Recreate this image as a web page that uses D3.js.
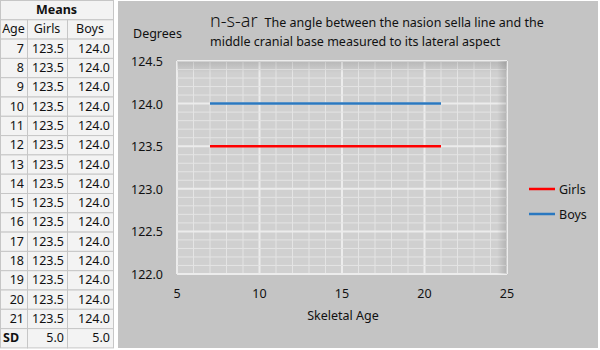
<!DOCTYPE html>
<html>
<head>
<meta charset="utf-8">
<script src="https://cdn.jsdelivr.net/npm/d3@7"></script>
<style>
  body { margin: 0; background: #fff; }
  svg { display: block; font-family: "Noto Sans", "DejaVu Sans", sans-serif; }
</style>
</head>
<body>
<svg id="chart" width="600" height="350"></svg>
<script>
const ages = [7, 8, 9, 10, 11, 12, 13, 14, 15, 16, 17, 18, 19, 20, 21];
const girls = [123.5, 123.5, 123.5, 123.5, 123.5, 123.5, 123.5, 123.5, 123.5, 123.5, 123.5, 123.5, 123.5, 123.5, 123.5];
const boys = [124.0, 124.0, 124.0, 124.0, 124.0, 124.0, 124.0, 124.0, 124.0, 124.0, 124.0, 124.0, 124.0, 124.0, 124.0];
const sd = { girls: 5.0, boys: 5.0 };
const xTicks = [5, 10, 15, 20, 25];
const yTicks = [122.0, 122.5, 123.0, 123.5, 124.0, 124.5];

const svg = d3.select("#chart");

// ---- table on the left ----
const rowH = 19.3;
const cols = [0, 27, 67, 113];
const tbl = svg.append("g");

function cell(x0, x1, row, text, opts = {}) {
  const y = row * rowH;
  tbl.append("rect")
    .attr("x", x0 + 0.5).attr("y", y + 0.5)
    .attr("width", x1 - x0).attr("height", rowH)
    .attr("fill", "#f3f3f3").attr("stroke", "#c6c6c6");
  tbl.append("text")
    .attr("x", opts.anchor === "middle" ? (x0 + x1) / 2 : opts.anchor === "start" ? x0 + 3 : x1 - 3)
    .attr("y", y + rowH / 2 + 4.5)
    .attr("text-anchor", opts.anchor || "end")
    .attr("font-size", 12.5)
    .attr("font-weight", opts.bold ? "bold" : null)
    .attr("fill", "#111")
    .text(text);
}

cell(cols[0], cols[3], 0, "Means", { anchor: "middle", bold: true });
cell(cols[0], cols[1], 1, "Age", { anchor: "middle" });
cell(cols[1], cols[2], 1, "Girls", { anchor: "middle" });
cell(cols[2], cols[3], 1, "Boys", { anchor: "middle" });
ages.forEach((a, i) => {
  cell(cols[0], cols[1], i + 2, a);
  cell(cols[1], cols[2], i + 2, girls[i].toFixed(1));
  cell(cols[2], cols[3], i + 2, boys[i].toFixed(1));
});
const sdRow = ages.length + 2;
cell(cols[0], cols[1], sdRow, "SD", { anchor: "start", bold: true });
cell(cols[1], cols[2], sdRow, sd.girls.toFixed(1));
cell(cols[2], cols[3], sdRow, sd.boys.toFixed(1));

// ---- chart panel ----
svg.append("rect")
  .attr("x", 118).attr("y", 1).attr("width", 480).attr("height", 347)
  .attr("fill", "#c4c4c4");

const plot = { left: 177, right: 507, top: 61, bottom: 274 };

const x = d3.scaleLinear().domain([5, 25]).range([plot.left, plot.right]);
const y = d3.scaleLinear().domain([122, 124.5]).range([plot.bottom, plot.top]);

const defs = svg.append("defs");
const gTop = defs.append("linearGradient").attr("id", "shTop")
  .attr("x1", 0).attr("y1", 0).attr("x2", 0).attr("y2", 1);
gTop.append("stop").attr("offset", 0).attr("stop-color", "#000").attr("stop-opacity", 0.12);
gTop.append("stop").attr("offset", 1).attr("stop-color", "#000").attr("stop-opacity", 0);
const gRight = defs.append("linearGradient").attr("id", "shRight")
  .attr("x1", 0).attr("y1", 0).attr("x2", 1).attr("y2", 0);
gRight.append("stop").attr("offset", 0).attr("stop-color", "#000").attr("stop-opacity", 0);
gRight.append("stop").attr("offset", 1).attr("stop-color", "#000").attr("stop-opacity", 0.14);

svg.append("rect")
  .attr("x", plot.left).attr("y", plot.top)
  .attr("width", plot.right - plot.left).attr("height", plot.bottom - plot.top)
  .attr("fill", "#d0d0d0");

const grid = svg.append("g");
// minor verticals every 1, major every 5
d3.range(5, 26, 1).forEach(v => {
  grid.append("line")
    .attr("x1", x(v)).attr("x2", x(v))
    .attr("y1", plot.top).attr("y2", plot.bottom)
    .attr("stroke", v % 5 === 0 ? "#ececec" : "#e4e4e4")
    .attr("stroke-width", v % 5 === 0 ? 2 : 1);
});
// minor horizontals every 0.1, major every 0.5
d3.range(0, 26).forEach(k => {
  const v = 122 + k * 0.1;
  const major = k % 5 === 0;
  grid.append("line")
    .attr("x1", plot.left).attr("x2", plot.right)
    .attr("y1", y(v)).attr("y2", y(v))
    .attr("stroke", major ? "#ececec" : "#e4e4e4")
    .attr("stroke-width", major ? 2 : 1);
});

// shading at the top and right edge of the plot
svg.append("rect")
  .attr("x", plot.left).attr("y", plot.top)
  .attr("width", plot.right - plot.left).attr("height", 12)
  .attr("fill", "url(#shTop)");
svg.append("rect")
  .attr("x", plot.right - 10).attr("y", plot.top)
  .attr("width", 10).attr("height", plot.bottom - plot.top)
  .attr("fill", "url(#shRight)");

// axes labels
svg.append("g").selectAll("text")
  .data(yTicks).enter().append("text")
  .attr("x", 163).attr("y", d => y(d) + 5)
  .attr("text-anchor", "end").attr("font-size", 12.5).attr("fill", "#111")
  .text(d => d.toFixed(1));

svg.append("g").selectAll("text")
  .data(xTicks).enter().append("text")
  .attr("x", d => x(d)).attr("y", 298)
  .attr("text-anchor", "middle").attr("font-size", 12.5).attr("fill", "#111")
  .text(d => d);

svg.append("text")
  .attr("x", 343).attr("y", 320)
  .attr("text-anchor", "middle").attr("font-size", 12.5).attr("fill", "#111")
  .text("Skeletal Age");

svg.append("text")
  .attr("x", 133).attr("y", 38)
  .attr("font-size", 12.5).attr("fill", "#111")
  .text("Degrees");

// title
const title = svg.append("text").attr("x", 210).attr("y", 27).attr("fill", "#111");
title.append("tspan").attr("font-size", 18).attr("font-weight", 300).text("n-s-ar");
title.append("tspan").attr("font-size", 12.5).attr("dx", 7)
  .text("The angle between the nasion sella line and the");
svg.append("text").attr("x", 210).attr("y", 46).attr("font-size", 12.5).attr("fill", "#111")
  .text("middle cranial base measured to its lateral aspect");

// series lines
const series = [
  { name: "Girls", values: girls, color: "#ff0000" },
  { name: "Boys", values: boys, color: "#2a78c0" }
];
const line = d3.line().x(d => x(d[0])).y(d => y(d[1]));

series.forEach(s => {
  svg.append("path")
    .datum(ages.map((a, i) => [a, s.values[i]]))
    .attr("fill", "none")
    .attr("stroke", s.color)
    .attr("stroke-width", 2.5)
    .attr("d", line);
});

// legend
const legend = svg.append("g");
series.forEach((s, i) => {
  const ly = 189 + i * 25;
  legend.append("line")
    .attr("x1", 529).attr("x2", 555).attr("y1", ly).attr("y2", ly)
    .attr("stroke", s.color).attr("stroke-width", 2.5);
  legend.append("text")
    .attr("x", 559).attr("y", ly + 4.5)
    .attr("font-size", 12.5).attr("fill", "#111")
    .text(s.name);
});
</script>
</body>
</html>
